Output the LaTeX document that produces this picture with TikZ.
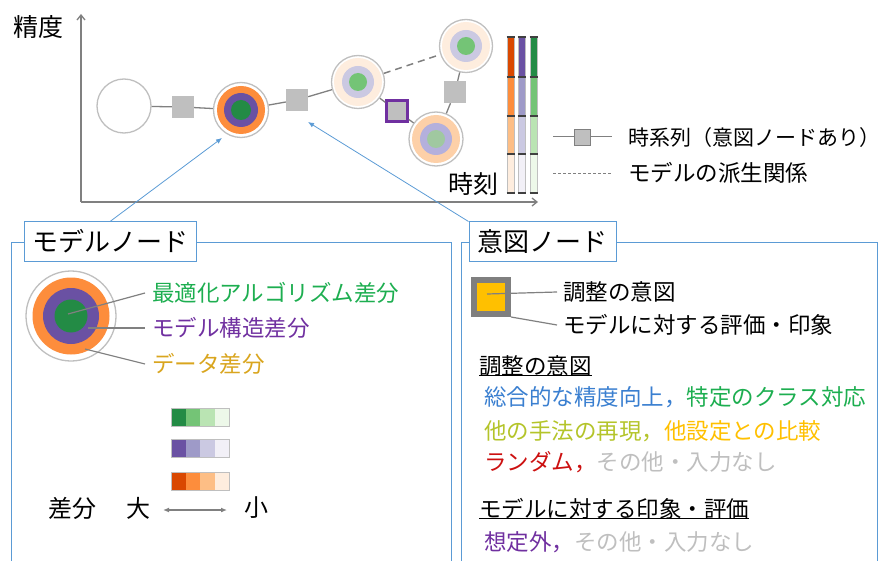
\documentclass[tikz,border=0pt]{standalone}
\usepackage{fontspec}
\setmainfont{Noto Sans CJK JP}
\usetikzlibrary{arrows.meta}
\definecolor{ringgray}{HTML}{BFBFBF}
\definecolor{conngray}{HTML}{808080}
\definecolor{sqgray}{HTML}{BFBFBF}
\definecolor{darksep}{HTML}{404040}
\definecolor{blueline}{HTML}{5B9BD5}
\definecolor{Oa}{HTML}{D94801}
\definecolor{Ob}{HTML}{FD8D3C}
\definecolor{Oc}{HTML}{FDBE85}
\definecolor{Od}{HTML}{FEEDDE}
\definecolor{Pa}{HTML}{6A51A3}
\definecolor{Pb}{HTML}{9E9AC8}
\definecolor{Pc}{HTML}{CBC9E2}
\definecolor{Pd}{HTML}{F2F0F7}
\definecolor{Ga}{HTML}{238B45}
\definecolor{Gb}{HTML}{74C476}
\definecolor{Gc}{HTML}{BAE4B3}
\definecolor{Gd}{HTML}{EDF8E9}
\definecolor{OcMix}{HTML}{FDD0A8}
\definecolor{PcMix}{HTML}{B4B0DC}
\definecolor{GcMix}{HTML}{A0C8A0}
\definecolor{txtgreen}{HTML}{1DAE50}
\definecolor{txtpurple}{HTML}{7030A0}
\definecolor{txtgold}{HTML}{D9A51E}
\definecolor{txtblue}{HTML}{3A7FD0}
\definecolor{txtolive}{HTML}{B4C42A}
\definecolor{txtamber}{HTML}{FFC000}
\definecolor{txtred}{HTML}{CC1010}
\definecolor{txtgray}{HTML}{BFBFBF}
\definecolor{qyellow}{HTML}{FFC000}
\definecolor{qgray}{HTML}{7F7F7F}
\begin{document}
\begin{tikzpicture}[x=1pt,y=-1pt,
  mnode/.style={circle, draw=ringgray, line width=1.3pt, fill=white, minimum size=#1, inner sep=0pt},
  disk/.style 2 args={circle, fill=#1, draw=none, minimum size=#2, inner sep=0pt},
  isq/.style={rectangle, fill=sqgray, draw=none, minimum size=22pt, inner sep=0pt},
  conn/.style={draw=conngray, line width=1.3pt},
  lead/.style={draw=conngray, line width=1.2pt},
  panel/.style={draw=blueline, line width=1pt},
  bluearrow/.style={draw=blueline, line width=0.8pt, -{Latex[length=6pt,width=5pt]}},
  axis/.style={draw=conngray, line width=1.3pt, -{Straight Barb[length=5pt,width=8pt]}},
  txt/.style={font=\fontsize{22.5}{26}\selectfont, inner sep=0pt, anchor=west},
  bigtxt/.style={font=\fontsize{25}{29}\selectfont, inner sep=0pt},
  title/.style={draw=blueline, line width=1pt, fill=white, font=\fontsize{26}{30}\selectfont, inner sep=0pt, minimum height=39pt},
  sep/.style={draw=darksep, line width=1.4pt}
]
\useasboundingbox (0,0) rectangle (885,561);

% axes
\coordinate (origin) at (81,202);
\coordinate (ytip) at (81,14);
\coordinate (xtip) at (538,202);
\draw[axis] (origin) -- (ytip);
\draw[axis] (origin) -- (xtip);
\node[bigtxt] (ylab) at (38,27) {精度};
\node[bigtxt] (xlab) at (473,184) {時刻};

% model nodes in the chart
\node[mnode=54pt] (c1) at (124,106) {};
\node[mnode=55pt] (c2) at (241,110) {};
\node[disk={Ob}{48pt}] at (c2) {};
\node[disk={Pa}{34pt}] at (c2) {};
\node[disk={Ga}{20pt}] at (c2) {};
\node[mnode=53pt] (c3) at (358,82) {};
\node[disk={Od}{48pt}] at (c3) {};
\node[disk={Pc}{32pt}] at (c3) {};
\node[disk={Gb}{18pt}] at (c3) {};
\node[mnode=53pt] (c4) at (466,46) {};
\node[disk={Od}{48pt}] at (c4) {};
\node[disk={Pc}{32pt}] at (c4) {};
\node[disk={Gb}{18pt}] at (c4) {};
\node[mnode=54pt] (c5) at (436,139) {};
\node[disk={OcMix}{48pt}] at (c5) {};
\node[disk={PcMix}{32pt}] at (c5) {};
\node[disk={GcMix}{18pt}] at (c5) {};

% intent nodes
\node[isq] (s1) at (183,107) {};
\node[isq] (s2) at (297,100) {};
\node[isq] (s3) at (455,92) {};
\node[isq, draw=txtpurple, line width=2.5pt, minimum size=21pt] (sp) at (397,111) {};

% connectors
\draw[conn] (c1) -- (s1);
\draw[conn] (s1) -- (c2);
\draw[conn] (c2) -- (s2);
\draw[conn] (s2) -- (c3);
\draw[conn] (c3) -- (sp);
\draw[conn] (sp) -- (c5);
\draw[conn] (c5) -- (s3);
\draw[conn] (s3) -- (c4);
\draw[conn, line width=1.5pt, dash pattern=on 7pt off 5pt] (c3) -- (c4);

% bars
\foreach \x/\ca/\cb/\cc/\cd in {507/Oa/Ob/Oc/Od, 518/Pa/Pb/Pc/Pd, 530/Ga/Gb/Gc/Gd}{
  \fill[\ca] (\x,37) rectangle ++(7,40);
  \fill[\cb] (\x,77) rectangle ++(7,39);
  \fill[\cc] (\x,116) rectangle ++(7,38);
  \fill[\cd] (\x,154) rectangle ++(7,39);
  \draw[ringgray, line width=0.4pt] (\x,37) rectangle ++(7,156);
  \foreach \y in {37,77,116,154,193}{
    \draw[sep] (\x-0.5,\y) -- ++(8,0);
  }
}

% legend
\coordinate (lgA) at (553,137);
\coordinate (lgB) at (612,137);
\node[rectangle, fill=sqgray, draw=conngray, line width=0.8pt, minimum size=16pt, inner sep=0pt] (lgsq) at (582,137) {};
\draw[conngray, line width=1pt] (lgA) -- (lgsq) -- (lgB);
\node[txt, font=\fontsize{21}{25}\selectfont] (lgt1) at (628,138) {時系列（意図ノードあり）};
\coordinate (lgC) at (553,173);
\coordinate (lgD) at (612,173);
\draw[conngray, line width=0.8pt, dash pattern=on 3pt off 2pt] (lgC) -- (lgD);
\node[txt] (lgt2) at (628,173) {モデルの派生関係};

% panels
\draw[panel] (11,561) -- (11,242) -- (451,242) -- (451,561);
\draw[panel] (461,561) -- (461,242) -- (877,242) -- (877,561);
\node[title, minimum width=172pt] (mt) at (110,241.5) {モデルノード};
\node[title, minimum width=147pt] (it) at (542.5,241.5) {意図ノード};

% blue arrows
\coordinate (a1) at (222,138);
\coordinate (a2) at (308,122);
\draw[bluearrow] (mt.north) -- (a1);
\draw[bluearrow] (it.north west) -- (a2);

% model panel contents
\node[mnode=90pt] (mc) at (71,316) {};
\node[disk={Ob}{77pt}] at (mc) {};
\node[disk={Pa}{56pt}] at (mc) {};
\node[disk={Ga}{33pt}] at (mc) {};
\node[txt, inner xsep=7pt, text=txtgreen] (lt1) at (145,293) {最適化アルゴリズム差分};
\node[txt, inner xsep=7pt, text=txtpurple] (lt2) at (145,328) {モデル構造差分};
\node[txt, inner xsep=7pt, text=txtgold] (lt3) at (145,364) {データ差分};
\coordinate (p1) at (68,314);
\coordinate (p2) at (88,328);
\coordinate (p3) at (85,349);
\draw[lead] (p1) -- (lt1.west);
\draw[lead] (p2) -- (lt2.west);
\draw[lead] (p3) -- (lt3.west);

% swatches
\foreach \y/\ca/\cb/\cc/\cd in {408/Ga/Gb/Gc/Gd, 439/Pa/Pb/Pc/Pd, 472/Oa/Ob/Oc/Od}{
  \fill[\ca] (171,\y) rectangle ++(14.5,18);
  \fill[\cb] (185.5,\y) rectangle ++(14.5,18);
  \fill[\cc] (200,\y) rectangle ++(14.5,18);
  \fill[\cd] (214.5,\y) rectangle ++(14.5,18);
  \draw[ringgray, line width=0.5pt] (171,\y) rectangle ++(58,18);
}
\node[bigtxt, font=\fontsize{24}{28}\selectfont] (sb) at (72,508) {差分};
\node[bigtxt, font=\fontsize{24}{28}\selectfont] (big) at (138,508) {大};
\node[bigtxt, font=\fontsize{24}{28}\selectfont] (small) at (256,508) {小};
\draw[conngray, line width=1.5pt, {Latex[length=6pt,width=5pt]}-{Latex[length=6pt,width=5pt]}] (163,510) -- (227,510);

% intent panel contents
\node[rectangle, draw=qgray, line width=6pt, fill=qyellow, minimum size=34pt, inner sep=0pt] (iq) at (491,297) {};
\node[txt, inner xsep=6pt] (t1) at (557,292) {調整の意図};
\node[txt, inner xsep=6pt] (t2) at (557,325) {モデルに対する評価・印象};
\coordinate (q1) at (487,294);
\draw[lead] (q1) -- (t1.west);
\draw[lead] (iq.south east) -- (t2.west);

\node[txt] (h1) at (479,366) {調整の意図};
\draw[black, line width=1pt] ([yshift=1pt]h1.south west) -- ([yshift=1pt]h1.south east);
\node[txt] (l1) at (484,397) {\color{txtblue}総合的な精度向上，\color{txtgreen}特定のクラス対応};
\node[txt] (l2) at (484,431) {\color{txtolive}他の手法の再現，\color{txtamber}他設定との比較};
\node[txt] (l3) at (484,462) {\color{txtred}ランダム，\color{txtgray}その他・入力なし};
\node[txt] (h2) at (479,509) {モデルに対する印象・評価};
\draw[black, line width=1pt] ([yshift=1pt]h2.south west) -- ([yshift=1pt]h2.south east);
\node[txt] (l4) at (484,542) {\color{txtpurple}想定外，\color{txtgray}その他・入力なし};
\end{tikzpicture}
\end{document}
